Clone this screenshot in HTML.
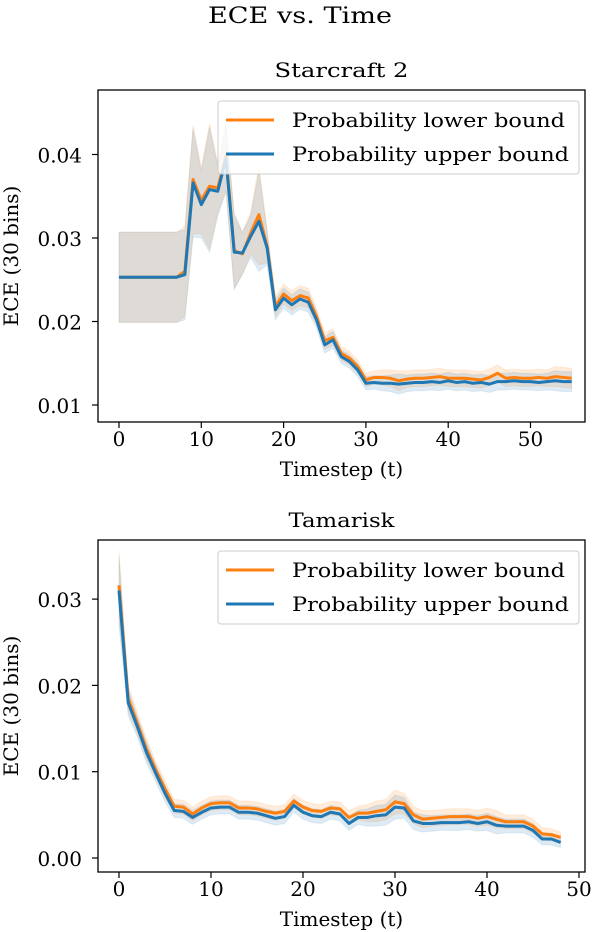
<!DOCTYPE html>
<html><head><meta charset="utf-8">
<style>
body{margin:0;background:#fff;}
svg{display:block;font-family:"DejaVu Serif","Liberation Serif",serif;}
</style></head>
<body>
<svg id="fig" width="600" height="932" viewBox="0 0 600 932">
<text x="300" y="23" text-anchor="middle" font-size="22" textLength="184" lengthAdjust="spacingAndGlyphs">ECE vs. Time</text>
</svg>
<script>
// Starcraft 2 data
const scT = Array.from({length:56},(_,i)=>i);
const scBlue = [0.0253,0.0253,0.0253,0.0253,0.0253,0.0253,0.0253,0.0253,0.0256,0.0366,0.034,0.0358,0.0356,0.0395,0.0283,0.0282,0.0302,0.032,0.0288,0.0214,0.0228,0.022,0.0227,0.0223,0.0202,0.0172,0.0178,0.0158,0.0152,0.0142,0.0126,0.0127,0.0126,0.0126,0.0125,0.0126,0.0127,0.0127,0.0128,0.0127,0.0129,0.0127,0.0128,0.0126,0.0127,0.0125,0.0128,0.0128,0.0129,0.0128,0.0128,0.0127,0.0128,0.0129,0.0128,0.0128];
const scOrange = [0.0253,0.0253,0.0253,0.0253,0.0253,0.0253,0.0253,0.0253,0.026,0.037,0.0345,0.0362,0.036,0.0398,0.0285,0.0281,0.0306,0.0328,0.029,0.0218,0.0233,0.0225,0.0231,0.0228,0.0206,0.0177,0.0181,0.0162,0.0156,0.0146,0.013,0.0133,0.0133,0.0132,0.0129,0.0131,0.0132,0.0132,0.0133,0.0134,0.0132,0.0132,0.0132,0.0131,0.0130,0.0133,0.0138,0.0132,0.0133,0.0132,0.0132,0.0133,0.0132,0.0134,0.0133,0.0132];
const scBand = [0.0054,0.0054,0.0054,0.0054,0.0054,0.0054,0.0054,0.0054,0.0054,0.0065,0.004,0.0075,0.003,0.004,0.0045,0.0025,0.0025,0.006,0.002,0.0012,0.0012,0.0012,0.0012,0.0012,0.001,0.001,0.001,0.0008,0.0008,0.0008,0.0008,0.0008,0.0009,0.001,0.0012,0.001,0.001,0.001,0.001,0.001,0.001,0.001,0.001,0.001,0.001,0.001,0.001,0.001,0.001,0.001,0.001,0.001,0.001,0.0012,0.0012,0.0012];
const scXTicks = [0,10,20,30,40,50];
const scYTicks = [0.01,0.02,0.03,0.04];
// Tamarisk data
const tmT = Array.from({length:49},(_,i)=>i);
const tmBlue = [0.031,0.018,0.0152,0.0122,0.0098,0.0075,0.0055,0.0054,0.0047,0.0053,0.0058,0.0059,0.0059,0.0053,0.0053,0.0052,0.0049,0.0046,0.0048,0.0061,0.0053,0.0049,0.0048,0.0053,0.0051,0.004,0.0047,0.0047,0.0049,0.005,0.0059,0.0058,0.0043,0.004,0.004,0.0041,0.0041,0.0041,0.0042,0.004,0.0042,0.0038,0.0037,0.0037,0.0037,0.0032,0.0022,0.0022,0.0018];
const tmOrange = [0.0316,0.0185,0.0156,0.0126,0.0102,0.008,0.006,0.0059,0.0051,0.0058,0.0063,0.0064,0.0064,0.0058,0.0058,0.0057,0.0054,0.0052,0.0054,0.0066,0.0059,0.0055,0.0054,0.0058,0.0057,0.0047,0.0052,0.0052,0.0054,0.0056,0.0065,0.0063,0.005,0.0045,0.0046,0.0047,0.0048,0.0048,0.0048,0.0046,0.0048,0.0045,0.0042,0.0042,0.0042,0.0037,0.0028,0.0027,0.0024];
const tmBand = [0.004,0.0015,0.0012,0.0012,0.001,0.001,0.0008,0.0008,0.0008,0.0008,0.0008,0.0008,0.0008,0.0008,0.0008,0.0008,0.0008,0.0008,0.0008,0.0008,0.0008,0.0008,0.0008,0.0008,0.0008,0.0008,0.0008,0.001,0.0012,0.0012,0.0014,0.0012,0.001,0.001,0.0009,0.0009,0.0009,0.0009,0.0009,0.0009,0.001,0.001,0.0008,0.0008,0.0008,0.0008,0.0007,0.0007,0.0006];
const tmXTicks = [0,10,20,30,40,50];
const tmYTicks = [0.00,0.01,0.02,0.03];

const NS='http://www.w3.org/2000/svg';
const svg=document.getElementById('fig');
function mk(tag,attrs,parent){const e=document.createElementNS(NS,tag);for(const k in attrs)e.setAttribute(k,attrs[k]);(parent||svg).appendChild(e);return e;}

function panel(cfg){
  const g=mk('g',{});
  
  
  const {L,R,T,B}=cfg;
  const xs=v=>cfg.x0px+(v-cfg.x0)*cfg.xk;
  const ys=v=>cfg.y0px-(v-cfg.y0)*cfg.yk;
  const t=mk('text',{x:(L+R)/2,y:T-13,'text-anchor':'middle','font-size':20,textLength:cfg.titleLen,lengthAdjust:'spacingAndGlyphs'},g);t.textContent=cfg.title;
  
  
  const bands=[[cfg.orange,'#ff7f0e','orange-band'],[cfg.blue,'#1f77b4','blue-band']];
  bands.forEach(([s,c,n])=>{
    let up=cfg.T_.map((x,i)=>xs(x)+','+ys(s[i]+cfg.band[i])).join(' ');
    let dn=cfg.T_.map((x,i)=>xs(x)+','+ys(s[i]-cfg.band[i])).reverse().join(' ');
    const p=mk('polygon',{points:up+' '+dn,fill:c,'fill-opacity':0.15,stroke:c,'stroke-opacity':0.1},g);
    
    
  });
  [[cfg.orange,'#ff7f0e','orange-line'],[cfg.blue,'#1f77b4','blue-line']].forEach(([s,c,n])=>{
    const p=mk('polyline',{points:cfg.T_.map((x,i)=>xs(x)+','+ys(s[i])).join(' '),fill:'none',stroke:c,'stroke-width':3,'stroke-linejoin':'round'},g);
    
    
  });
  const fr=mk('rect',{x:L,y:T,width:R-L,height:B-T,fill:'none',stroke:'#000','stroke-width':1.3},g);
  
  
  cfg.xt.forEach(v=>{
    const x=xs(v);
    mk('line',{x1:x,x2:x,y1:B,y2:B+6,stroke:'#000','stroke-width':1.2},g);
    const tx=mk('text',{x:x,y:B+24,'text-anchor':'middle','font-size':20},g);tx.textContent=v;
    
    
  });
  cfg.yt.forEach(v=>{
    const y=ys(v);
    mk('line',{x1:L-6,x2:L,y1:y,y2:y,stroke:'#000','stroke-width':1.2},g);
    const tx=mk('text',{x:L-16,y:y+8,'text-anchor':'end','font-size':20},g);tx.textContent=v.toFixed(2);
    
    
  });
  const xl=mk('text',{x:(L+R)/2,y:B+54,'text-anchor':'middle','font-size':20},g);xl.textContent='Timestep (t)';
  
  
  const yl=mk('text',{x:0,y:0,'text-anchor':'middle','font-size':20,transform:`translate(18,${(T+B)/2}) rotate(-90)`},g);yl.textContent='ECE (30 bins)';
  
  
  const lg=mk('g',{},g);
  
  
  mk('rect',{x:218,y:T+11,width:361,height:73,rx:3,fill:'#fff','fill-opacity':0.8,stroke:'#ccc'},lg);
  [['#ff7f0e','Probability lower bound'],['#1f77b4','Probability upper bound']].forEach(([c,s],i)=>{
    const y=T+30+i*34;
    mk('line',{x1:226,x2:274,y1:y,y2:y,stroke:c,'stroke-width':3},lg);
    const tx=mk('text',{x:292,y:y+7,'font-size':20,textLength:i?277:273,lengthAdjust:'spacingAndGlyphs'},lg);tx.textContent=s;
    
    
  });
}
panel({name:'starcraft-2-panel',title:'Starcraft 2',titleLen:134,L:98,R:585,T:90,B:422,x0:0,x0px:119,xk:8.23,y0:0.01,y0px:405,yk:8350,
  T_:scT,blue:scBlue,orange:scOrange,band:scBand,xt:scXTicks,yt:scYTicks});
panel({name:'tamarisk-panel',title:'Tamarisk',titleLen:106,L:98,R:585,T:540,B:872,x0:0,x0px:119,xk:9.2,y0:0,y0px:858,yk:8630,
  T_:tmT,blue:tmBlue,orange:tmOrange,band:tmBand,xt:tmXTicks,yt:tmYTicks});
</script>
</body></html>
